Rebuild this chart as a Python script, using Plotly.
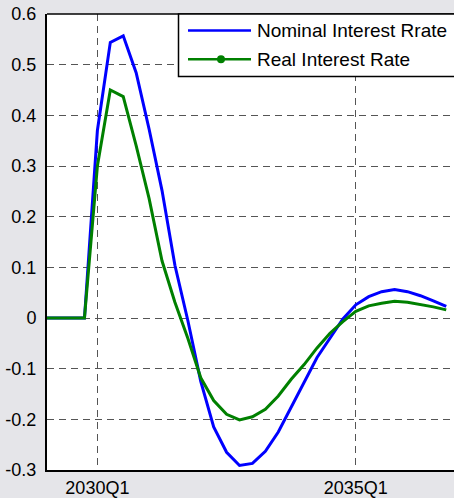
import plotly.graph_objects as go

quarters = ["2029Q1", "2029Q2", "2029Q3", "2029Q4",
            "2030Q1", "2030Q2", "2030Q3", "2030Q4",
            "2031Q1", "2031Q2", "2031Q3", "2031Q4",
            "2032Q1", "2032Q2", "2032Q3", "2032Q4",
            "2033Q1", "2033Q2", "2033Q3", "2033Q4",
            "2034Q1", "2034Q2", "2034Q3", "2034Q4",
            "2035Q1", "2035Q2", "2035Q3", "2035Q4",
            "2036Q1", "2036Q2", "2036Q3", "2036Q4"]

nominal = [0, 0, 0, 0,
           0.37, 0.544, 0.557, 0.484,
           0.373, 0.252, 0.104, -0.005,
           -0.125, -0.215, -0.265, -0.291,
           -0.287, -0.263, -0.225, -0.176,
           -0.127, -0.078, -0.040, -0.002,
           0.026, 0.042, 0.052, 0.056,
           0.052, 0.044, 0.034, 0.023]

real = [0, 0, 0, 0,
        0.30, 0.450, 0.437, 0.340,
        0.236, 0.113, 0.031, -0.040,
        -0.118, -0.163, -0.190, -0.201,
        -0.195, -0.180, -0.154, -0.121,
        -0.092, -0.059, -0.030, -0.007,
        0.013, 0.024, 0.029, 0.033,
        0.031, 0.027, 0.022, 0.016]

x_tick_labels = ["2030Q1", "2035Q1"]
y_tick_values = [0.6, 0.5, 0.4, 0.3, 0.2, 0.1, 0, -0.1, -0.2, -0.3]
y_tick_labels = ["0.6", "0.5", "0.4", "0.3", "0.2", "0.1", "0", "-0.1", "-0.2", "-0.3"]
legend_names = ["Nominal Interest Rrate", "Real Interest Rate"]

BLUE = "#0000ff"
GREEN = "#008000"
FONT = "Liberation Sans, Arial, sans-serif"

fig = go.Figure()
fig.add_trace(go.Scatter(x=quarters, y=nominal, mode="lines",
                         line=dict(color=BLUE, width=3), name=legend_names[0],
                         showlegend=False))
fig.add_trace(go.Scatter(x=quarters, y=real, mode="lines",
                         line=dict(color=GREEN, width=3), name=legend_names[1],
                         showlegend=False))

W, H = 454, 498
ml, mr, mt, mb = 47, 0, 14, 25
pw, ph = W - ml - mr, H - mt - mb

def px(xp):
    return (xp - ml) / pw

def py(yp):
    return (H - mb - yp) / ph

shapes = []
# top border line
shapes.append(dict(type="line", xref="paper", yref="paper", x0=0, x1=1.05, y0=1, y1=1,
                   line=dict(color="black", width=1.5)))
# legend box
shapes.append(dict(type="rect", xref="paper", yref="paper",
                   x0=px(178.5), x1=px(470), y0=py(77), y1=py(14),
                   fillcolor="white", line=dict(color="black", width=1.5), layer="above"))
# legend line samples
shapes.append(dict(type="line", xref="paper", yref="paper", x0=px(188), x1=px(251),
                   y0=py(30.7), y1=py(30.7), line=dict(color=BLUE, width=2.5), layer="above"))
shapes.append(dict(type="line", xref="paper", yref="paper", x0=px(188), x1=px(251),
                   y0=py(59.5), y1=py(59.5), line=dict(color=GREEN, width=2.5), layer="above"))
shapes.append(dict(type="circle", xref="paper", yref="paper", x0=px(217), x1=px(225),
                   y0=py(63.5), y1=py(55.5), fillcolor=GREEN, line=dict(color=GREEN, width=0),
                   layer="above"))

annotations = [
    dict(xref="paper", yref="paper", x=px(255), y=py(31), xanchor="left", yanchor="middle",
         text=legend_names[0], showarrow=False, font=dict(family=FONT, size=19, color="black")),
    dict(xref="paper", yref="paper", x=px(255), y=py(60), xanchor="left", yanchor="middle",
         text=legend_names[1], showarrow=False, font=dict(family=FONT, size=19, color="black")),
]

fig.update_layout(
    width=W, height=H,
    margin=dict(l=ml, r=mr, t=mt, b=mb, pad=0),
    paper_bgcolor="#e5e5e9",
    plot_bgcolor="white",
    font=dict(family=FONT, size=18, color="black"),
    shapes=shapes,
    annotations=annotations,
    showlegend=False,
)

fig.update_xaxes(
    type="category",
    range=[0.1, 31.6],
    tickmode="array", tickvals=["2030Q1", "2035Q1"], ticktext=x_tick_labels,
    showgrid=True, gridcolor="#555555", griddash="7px,5px", gridwidth=1,
    showline=True, linecolor="black", linewidth=2, mirror=False,
    ticks="", zeroline=False,
    tickfont=dict(family=FONT, size=18, color="black"),
)
fig.update_yaxes(
    range=[-0.3, 0.6],
    tickmode="array", tickvals=y_tick_values, ticktext=y_tick_labels,
    showgrid=True, gridcolor="#555555", griddash="7px,5px", gridwidth=1,
    showline=True, linecolor="black", linewidth=2, mirror=False,
    ticks="", zeroline=False, ticklabelstandoff=5,
    tickfont=dict(family=FONT, size=18, color="black"),
)

fig.write_html("out.html")
